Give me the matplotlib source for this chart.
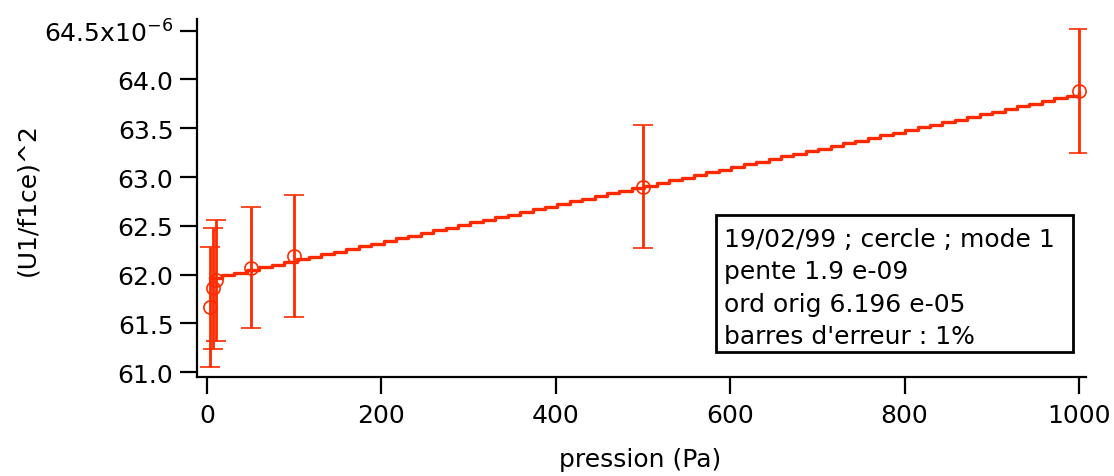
import numpy as np
import matplotlib
matplotlib.use("Agg")
import matplotlib.pyplot as plt
from matplotlib.patches import Rectangle

# measured points, (U1/f1ce)^2 in units of 1e-6
pression = [3, 7, 10, 50, 100, 500, 1000]
u_carre = [61.67, 61.86, 61.94, 62.07, 62.19, 62.90, 63.88]
erreur_rel = 0.01  # barres d'erreur : 1%

# linear fit parameters shown in the annotation
pente = 1.9e-09
ord_orig = 6.196e-05
n_marches = 70

yticks = [61.0, 61.5, 62.0, 62.5, 63.0, 63.5, 64.0, 64.5]
ytick_labels = ["61.0", "61.5", "62.0", "62.5", "63.0", "63.5", "64.0", "64.5x10$^{-6}$"]
xticks = [0, 200, 400, 600, 800, 1000]

note_lignes = ["19/02/99 ; cercle ; mode 1",
               "pente 1.9 e-09",
               "ord orig 6.196 e-05",
               "barres d'erreur : 1%"]

rouge = "#ff2a00"
W, H = 1114, 477

plt.rcParams["font.family"] = ["DejaVu Sans"]

fig = plt.figure(figsize=(W / 100, H / 100), dpi=100)
ax = fig.add_axes([197 / W, 1 - 378 / H, (1086 - 197) / W, (378 - 20) / H])

x = np.array(pression, dtype=float)
y = np.array(u_carre)
err = y * erreur_rel

# fit curve (drawn as a staircase, like the original)
xf = np.linspace(x.min(), 1000, n_marches + 1)
yf = (ord_orig + pente * xf) * 1e6
ax.plot(xf, yf, color=rouge, lw=2.4, drawstyle="steps-post")

ax.errorbar(x, y, yerr=err, fmt="o", mfc="none", mec=rouge, ms=9.5, mew=1.2,
            ecolor=rouge, elinewidth=2, capsize=7, capthick=2)

ax.set_xlim(-11.5, 1008)
ax.set_ylim(60.95, 64.62)

ax.set_xticks(xticks)
ax.set_yticks(yticks)
ax.set_yticklabels(ytick_labels)
ax.tick_params(direction="out", length=12, width=1.6, labelsize=18)
ax.tick_params(axis="y", pad=5)
ax.tick_params(axis="x", pad=7)

for s in ["top", "right"]:
    ax.spines[s].set_visible(False)
for s in ["left", "bottom"]:
    ax.spines[s].set_linewidth(1.6)

ax.set_xlabel("pression (Pa)", fontsize=18, va="center")
ax.xaxis.set_label_coords((640 - 197) / (1086 - 197), -(460 - 378) / (378 - 20))
ax.set_ylabel("(U1/f1ce)^2", fontsize=18, va="center")
ax.yaxis.set_label_coords(-(197 - 27) / (1086 - 197), (378 - 200) / (378 - 20))

# annotation box
fig.patches.append(Rectangle((716 / W, 1 - 353 / H), (1073 - 716) / W, (353 - 216) / H,
                             transform=fig.transFigure, fc="white", ec="black", lw=2,
                             zorder=5))
for i, ligne in enumerate(note_lignes):
    fig.text(724 / W, 1 - (240 + 32.3 * i) / H, ligne, fontsize=18,
             va="center", ha="left", zorder=6)

fig.savefig("out.png", dpi=100)
